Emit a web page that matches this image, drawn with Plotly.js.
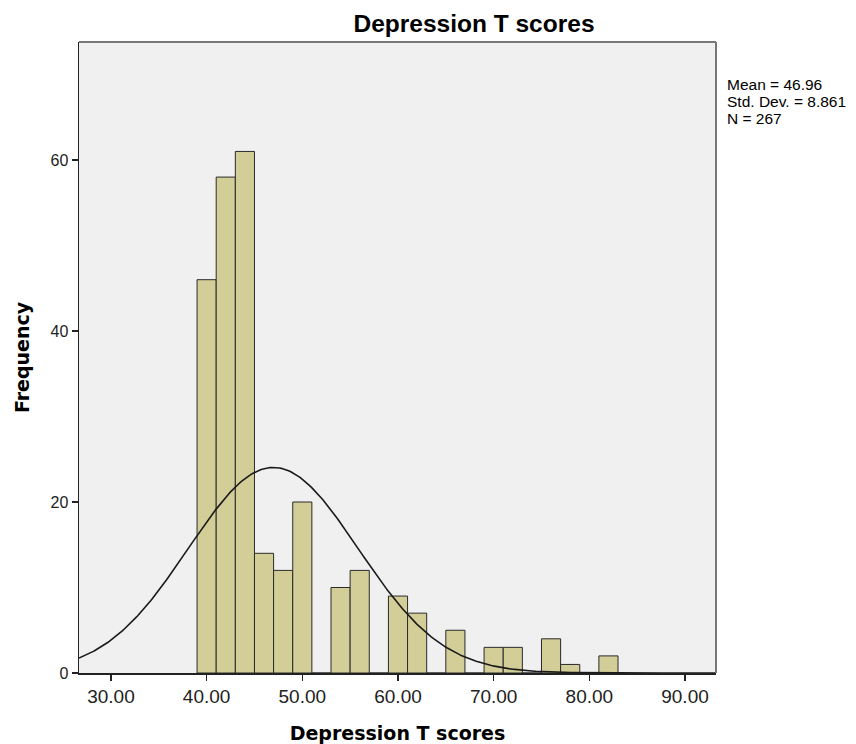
<!DOCTYPE html>
<html>
<head>
<meta charset="utf-8">
<script src="https://cdn.plot.ly/plotly-3.0.1.min.js"></script>
<style>html,body{margin:0;padding:0;background:#fff;}#chart{width:856px;height:744px;}</style>
</head>
<body>
<div id="chart"></div>
<script>
// Histogram bins (centers, width 2) and frequencies
const binCenters = [40,42,44,46,48,50,52,54,56,58,60,62,64,66,68,70,72,74,76,78,80,82];
const frequencies = [46,58,61,14,12,20,0,10,12,0,9,7,0,5,0,3,3,0,4,1,0,2];
const binWidth = 2;
const MEAN = 46.96, SD = 8.861, N = 267;
const xTicks = [30,40,50,60,70,80,90];
const xTickLabels = ["30.00","40.00","50.00","60.00","70.00","80.00","90.00"];
const yTicks = [0,20,40,60];
const statLines = ['Mean = 46.96', 'Std. Dev. = 8.861', 'N = 267'];

const xMin = 26.66, xMax = 93.24;
const cx = [], cy = [];
for (let i = 0; i <= 400; i++) {
  const x = xMin + (xMax - xMin) * i / 400;
  cx.push(x);
  cy.push(N * binWidth / (SD * Math.sqrt(2 * Math.PI)) * Math.exp(-0.5 * Math.pow((x - MEAN) / SD, 2)));
}

const bars = {
  type: 'bar', x: binCenters, y: frequencies, width: binWidth,
  marker: {color: '#d3ce97', line: {color: '#2a2a2a', width: 1}},
  hoverinfo: 'x+y'
};
const curve = {
  type: 'scatter', mode: 'lines', x: cx, y: cy,
  line: {color: '#1a1a1a', width: 1.6}, hoverinfo: 'skip'
};

const plotTop = 42, plotBottom = 673, plotH = plotBottom - plotTop;
const annotations = statLines.map((t, i) => ({
  xref: 'paper', yref: 'paper', x: 1 + 9/637, y: (plotBottom - (84 + 17 * i)) / plotH,
  xanchor: 'left', yanchor: 'middle', align: 'left', showarrow: false, text: t,
  font: {size: 15.5, family: 'Liberation Sans, Arial, sans-serif', color: '#000'}
}));

const layout = {
  width: 856, height: 744,
  margin: {l: 79, r: 140, t: 42, b: 71},
  paper_bgcolor: '#ffffff', plot_bgcolor: '#f0f0f0',
  showlegend: false, bargap: 0,
  font: {family: 'Liberation Sans, Arial, sans-serif', color: '#000'},
  title: {text: '<b>Depression T scores</b>', x: 474/856, xanchor: 'center', y: 1 - 23/744, yanchor: 'middle',
          font: {size: 24.5, family: 'Liberation Sans, Arial, sans-serif', color: '#000'}},
  xaxis: {
    range: [xMin, xMax], tickvals: xTicks, ticktext: xTickLabels,
    ticks: 'outside', ticklen: 6, tickwidth: 1.5, tickcolor: '#222',
    showgrid: false, zeroline: false, showline: true, linecolor: '#222', linewidth: 1.5, mirror: false,
    tickfont: {size: 19, family: 'Liberation Sans Narrow, Liberation Sans, Arial, sans-serif', color: '#222'},
    title: {text: '<b>Depression T scores</b>', standoff: 22,
            font: {size: 19, family: 'DejaVu Sans, sans-serif', color: '#000'}}
  },
  yaxis: {
    range: [0, 73.8], tickvals: yTicks,
    ticks: 'outside', ticklen: 6, tickwidth: 1.5, tickcolor: '#222',
    showgrid: false, zeroline: false, showline: true, linecolor: '#222', linewidth: 1.5, mirror: false,
    tickfont: {size: 16, family: 'Liberation Sans, Arial, sans-serif', color: '#222'},
    title: {text: '<b>Frequency</b>', standoff: 16,
            font: {size: 19, family: 'DejaVu Sans, sans-serif', color: '#000'}}
  },
  shapes: [
    {type: 'line', xref: 'paper', yref: 'paper', x0: 0, x1: 1, y0: 1, y1: 1, line: {color: '#777', width: 2}},
    {type: 'line', xref: 'paper', yref: 'paper', x0: 1, x1: 1, y0: 0, y1: 1, line: {color: '#777', width: 2}}
  ],
  annotations: annotations
};

Plotly.newPlot('chart', [bars, curve], layout, {displayModeBar: false, staticPlot: true});
</script>
</body>
</html>
